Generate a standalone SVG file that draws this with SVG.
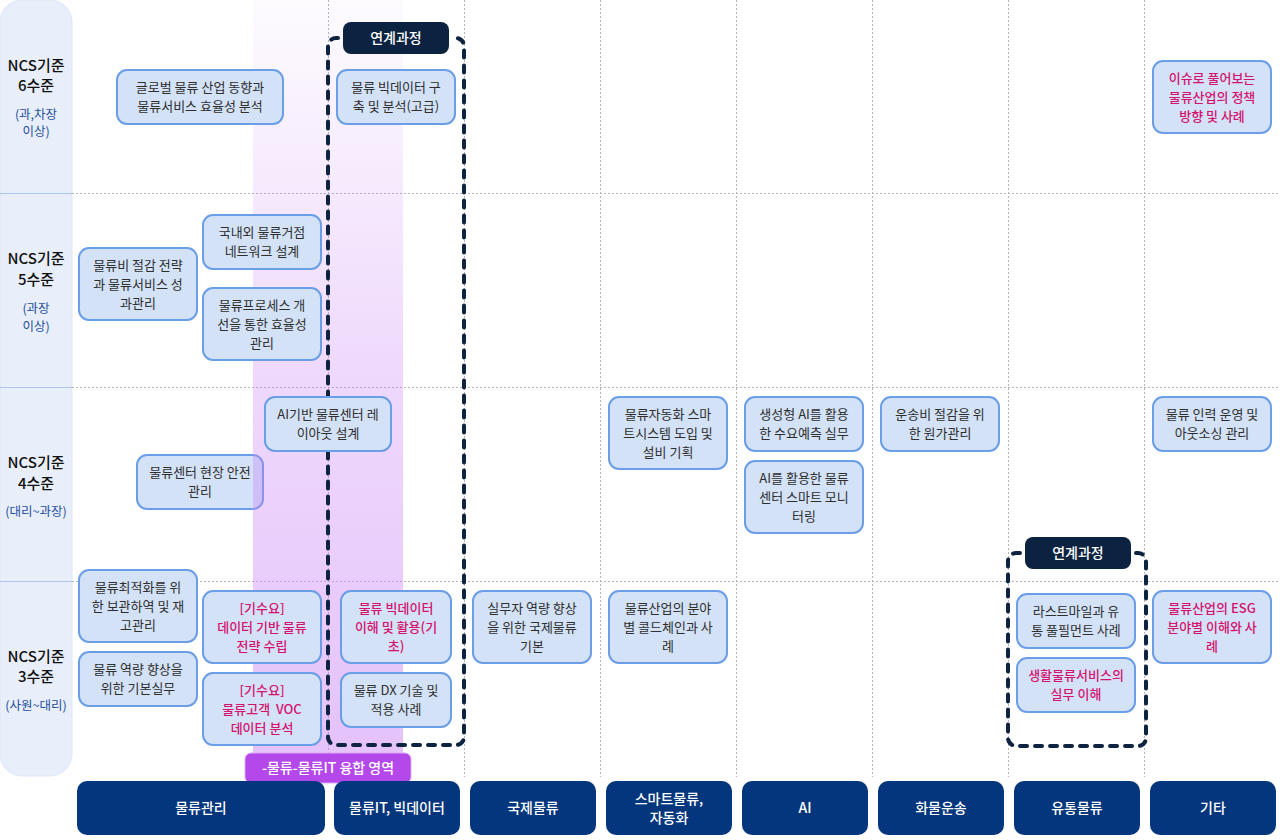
<svg xmlns="http://www.w3.org/2000/svg" width="1280" height="840" viewBox="0 0 1280 840">
<defs>
<linearGradient id="band" x1="0" y1="0" x2="0" y2="1">
<stop offset="0" stop-color="#c77df5" stop-opacity="0.03"/>
<stop offset="0.5" stop-color="#c77df5" stop-opacity="0.3"/>
<stop offset="1" stop-color="#c77df5" stop-opacity="0.47"/>
</linearGradient>
<style>
text{font-family:"Noto Sans CJK KR","Noto Sans",sans-serif;text-anchor:middle}
.n rect{fill:#d3e2f7;stroke:#6a9ee6;stroke-width:2}
.n text{font-size:13px;fill:#2e2e2e}
.n text.m{fill:#d4136f;font-weight:500}
.grid{stroke:#b4b4b4;stroke-width:1;stroke-dasharray:2 2;fill:none}
.sep{stroke:#aac5ee;stroke-width:1}
.lv{font-size:15px;fill:#111111;font-weight:500}
.sub{font-size:12.5px;fill:#1f4e9e}
.dash{fill:none;stroke:#0d2340;stroke-width:4;stroke-dasharray:7 8;stroke-linecap:round}
.tag rect{fill:#0b2341}
.tag text{font-size:14px;fill:#ffffff;font-weight:500}
.cat rect{fill:#03367c}
.cat text{font-size:14px;fill:#ffffff;font-weight:500}
</style>
</defs>
<rect width="1280" height="840" fill="#ffffff"/>
<g id="levels">
<rect x="0" y="0" width="72" height="776" rx="22" fill="#e8eefa" stroke="#dbe6f8"/>
<line class="sep" x1="0" y1="193.5" x2="72" y2="193.5"/>
<line class="sep" x1="0" y1="387.5" x2="72" y2="387.5"/>
<line class="sep" x1="0" y1="581.5" x2="72" y2="581.5"/>
<text class="lv" x="36" y="71">NCS기준</text>
<text class="lv" x="36" y="91">6수준</text>
<text class="sub" x="36" y="119">(과,차장</text>
<text class="sub" x="36" y="136">이상)</text>
<text class="lv" x="36" y="264">NCS기준</text>
<text class="lv" x="36" y="285">5수준</text>
<text class="sub" x="36" y="313">(과장</text>
<text class="sub" x="36" y="331">이상)</text>
<text class="lv" x="36" y="468">NCS기준</text>
<text class="lv" x="36" y="489">4수준</text>
<text class="sub" x="36" y="516">(대리~과장)</text>
<text class="lv" x="36" y="662">NCS기준</text>
<text class="lv" x="36" y="682">3수준</text>
<text class="sub" x="36" y="710">(사원~대리)</text>
</g>
<g id="grid">
<line class="grid" x1="72" y1="193.5" x2="1280" y2="193.5"/>
<line class="grid" x1="72" y1="387.5" x2="1280" y2="387.5"/>
<line class="grid" x1="72" y1="581.5" x2="1280" y2="581.5"/>
<line class="grid" x1="328.5" y1="0" x2="328.5" y2="777"/>
<line class="grid" x1="464.5" y1="0" x2="464.5" y2="777"/>
<line class="grid" x1="600.5" y1="0" x2="600.5" y2="777"/>
<line class="grid" x1="736.5" y1="0" x2="736.5" y2="777"/>
<line class="grid" x1="872.5" y1="0" x2="872.5" y2="777"/>
<line class="grid" x1="1008.5" y1="0" x2="1008.5" y2="777"/>
<line class="grid" x1="1144.5" y1="0" x2="1144.5" y2="777"/>
</g>
<g id="n8" class="n"><rect x="137" y="455" width="126" height="54" rx="10"/><text x="200" y="477">물류센터 현장 안전</text><text x="200" y="496">관리</text></g>
<rect id="fusion-band" x="253" y="0" width="150" height="760" fill="url(#band)"/>
<g id="linked-groups">
<path class="dash" d="M338,38 H336 A8,8 0 0 0 328,46 V737 A8,8 0 0 0 336,745 H456 A8,8 0 0 0 464,737 V46 A8,8 0 0 0 456,38 H454"/>
<path class="dash" d="M1020,553 H1016 A8,8 0 0 0 1008,561 V738 A8,8 0 0 0 1016,746 H1138 A8,8 0 0 0 1146,738 V561 A8,8 0 0 0 1138,553 H1136"/>
</g>
<g id="tag1" class="tag"><rect x="343" y="22" width="106" height="32" rx="8"/><text x="396" y="43">연계과정</text></g>
<g id="tag2" class="tag"><rect x="1025" y="537" width="106" height="32" rx="8"/><text x="1078" y="558">연계과정</text></g>
<g id="n1" class="n"><rect x="117" y="70" width="166" height="54" rx="10"/><text x="200" y="92">글로벌 물류 산업 동향과</text><text x="200" y="111">물류서비스 효율성 분석</text></g>
<g id="n2" class="n"><rect x="337" y="70" width="118" height="54" rx="10"/><text x="396" y="92">물류 빅데이터 구</text><text x="396" y="111">축 및 분석(고급)</text></g>
<g id="n3" class="n"><rect x="1153" y="61" width="118" height="72" rx="10"/><text class="m" x="1212" y="83">이슈로 풀어보는</text><text class="m" x="1212" y="102">물류산업의 정책</text><text class="m" x="1212" y="121">방향 및 사례</text></g>
<g id="n4" class="n"><rect x="203" y="215" width="118" height="54" rx="10"/><text x="262" y="237">국내외 물류거점</text><text x="262" y="256">네트워크 설계</text></g>
<g id="n5" class="n"><rect x="79" y="248" width="118" height="72" rx="10"/><text x="138" y="270">물류비 절감 전략</text><text x="138" y="289">과 물류서비스 성</text><text x="138" y="308">과관리</text></g>
<g id="n6" class="n"><rect x="203" y="288" width="118" height="72" rx="10"/><text x="262" y="310">물류프로세스 개</text><text x="262" y="329">선을 통한 효율성</text><text x="262" y="348">관리</text></g>
<g id="n7" class="n"><rect x="265" y="397" width="126" height="54" rx="10"/><text x="328" y="419">AI기반 물류센터 레</text><text x="328" y="438">이아웃 설계</text></g>
<g id="n9" class="n"><rect x="609" y="397" width="118" height="72" rx="10"/><text x="668" y="419">물류자동화 스마</text><text x="668" y="438">트시스템 도입 및</text><text x="668" y="457">설비 기획</text></g>
<g id="n10" class="n"><rect x="745" y="397" width="118" height="54" rx="10"/><text x="804" y="419">생성형 AI를 활용</text><text x="804" y="438">한 수요예측 실무</text></g>
<g id="n11" class="n"><rect x="745" y="461" width="118" height="72" rx="10"/><text x="804" y="483">AI를 활용한 물류</text><text x="804" y="502">센터 스마트 모니</text><text x="804" y="521">터링</text></g>
<g id="n12" class="n"><rect x="881" y="397" width="118" height="54" rx="10"/><text x="940" y="419">운송비 절감을 위</text><text x="940" y="438">한 원가관리</text></g>
<g id="n13" class="n"><rect x="1153" y="397" width="118" height="54" rx="10"/><text x="1212" y="419">물류 인력 운영 및</text><text x="1212" y="438">아웃소싱 관리</text></g>
<g id="n14" class="n"><rect x="79" y="570" width="118" height="72" rx="10"/><text x="138" y="592">물류최적화를 위</text><text x="138" y="611">한 보관하역 및 재</text><text x="138" y="630">고관리</text></g>
<g id="n15" class="n"><rect x="79" y="652" width="118" height="54" rx="10"/><text x="138" y="674">물류 역량 향상을</text><text x="138" y="693">위한 기본실무</text></g>
<g id="n16" class="n"><rect x="203" y="591" width="118" height="72" rx="10"/><text class="m" x="262" y="613">[기수요]</text><text class="m" x="262" y="632">데이터 기반 물류</text><text class="m" x="262" y="651">전략 수립</text></g>
<g id="n17" class="n"><rect x="203" y="673" width="118" height="72" rx="10"/><text class="m" x="262" y="695">[기수요]</text><text class="m" x="262" y="714" xml:space="preserve">물류고객  VOC</text><text class="m" x="262" y="733">데이터 분석</text></g>
<g id="n18" class="n"><rect x="341" y="591" width="110" height="72" rx="10"/><text class="m" x="396" y="613">물류 빅데이터</text><text class="m" x="396" y="632">이해 및 활용(기</text><text class="m" x="396" y="651">초)</text></g>
<g id="n19" class="n"><rect x="341" y="673" width="110" height="54" rx="10"/><text x="396" y="695">물류 DX 기술 및</text><text x="396" y="714">적용 사례</text></g>
<g id="n20" class="n"><rect x="473" y="591" width="118" height="72" rx="10"/><text x="532" y="613">실무자 역량 향상</text><text x="532" y="632">을 위한 국제물류</text><text x="532" y="651">기본</text></g>
<g id="n21" class="n"><rect x="609" y="591" width="118" height="72" rx="10"/><text x="668" y="613">물류산업의 분야</text><text x="668" y="632">별 콜드체인과 사</text><text x="668" y="651">례</text></g>
<g id="n22" class="n"><rect x="1017" y="594" width="118" height="54" rx="10"/><text x="1076" y="616">라스트마일과 유</text><text x="1076" y="635">통 풀필먼트 사례</text></g>
<g id="n23" class="n"><rect x="1017" y="658" width="118" height="54" rx="10"/><text class="m" x="1076" y="680">생활물류서비스의</text><text class="m" x="1076" y="699">실무 이해</text></g>
<g id="n24" class="n"><rect x="1153" y="591" width="118" height="72" rx="10"/><text class="m" x="1212" y="613">물류산업의 ESG</text><text class="m" x="1212" y="632">분야별 이해와 사</text><text class="m" x="1212" y="651">례</text></g>
<g id="fusion-label"><rect x="245" y="753" width="166" height="30" rx="6" fill="#b548ea" stroke="#dcaaf6" stroke-width="1"/><text x="328" y="773" font-size="14" fill="#ffffff" font-weight="500">-물류-물류IT 융합 영역</text></g>
<g id="cat1" class="cat"><rect x="77" y="781" width="248" height="54" rx="10"/><text x="201" y="813">물류관리</text></g>
<g id="cat2" class="cat"><rect x="334" y="781" width="126" height="54" rx="10"/><text x="397" y="813">물류IT, 빅데이터</text></g>
<g id="cat3" class="cat"><rect x="470" y="781" width="126" height="54" rx="10"/><text x="533" y="813">국제물류</text></g>
<g id="cat4" class="cat"><rect x="606" y="781" width="126" height="54" rx="10"/><text x="669" y="804">스마트물류,</text><text x="669" y="823">자동화</text></g>
<g id="cat5" class="cat"><rect x="742" y="781" width="126" height="54" rx="10"/><text x="805" y="813">AI</text></g>
<g id="cat6" class="cat"><rect x="878" y="781" width="126" height="54" rx="10"/><text x="941" y="813">화물운송</text></g>
<g id="cat7" class="cat"><rect x="1014" y="781" width="126" height="54" rx="10"/><text x="1077" y="813">유통물류</text></g>
<g id="cat8" class="cat"><rect x="1150" y="781" width="126" height="54" rx="10"/><text x="1213" y="813">기타</text></g>
</svg>
